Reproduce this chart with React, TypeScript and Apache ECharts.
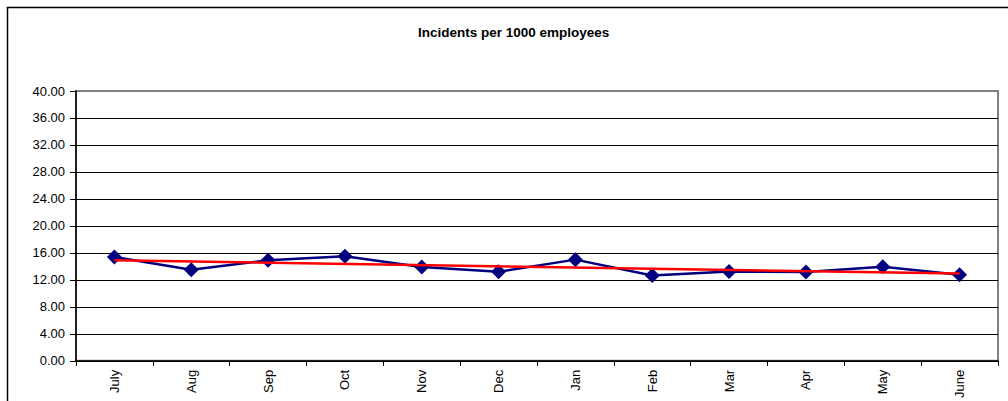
import React, { useEffect, useRef } from "react";
import * as echarts from "echarts";

const months = ["July", "Aug", "Sep", "Oct", "Nov", "Dec", "Jan", "Feb", "Mar", "Apr", "May", "June"];
const incidents = [15.4, 13.5, 14.9, 15.5, 13.9, 13.2, 15.0, 12.65, 13.25, 13.15, 13.95, 12.75];
const trend = [14.9, null, null, null, null, null, null, null, null, null, null, 12.95];
const yTicks = { min: 0, max: 40, interval: 4 };
const titleText = "Incidents per 1000 employees";

const FONT = "'Liberation Sans', Arial, sans-serif";

export default function App() {
  const ref = useRef<HTMLDivElement>(null);
  useEffect(() => {
    document.body.style.margin = "0";
    if (!ref.current) return;
    const chart = echarts.init(ref.current, null, { renderer: "svg" });
    const splitColors: string[] = [];
    for (let v = yTicks.min; v <= yTicks.max; v += yTicks.interval) {
      splitColors.push(v === yTicks.max ? "#808080" : "#000000");
    }
    chart.setOption({
      animation: false,
      backgroundColor: "#ffffff",
      title: {
        text: titleText,
        left: 413,
        top: 20,
        textStyle: { fontFamily: FONT, fontSize: 13.5, fontWeight: "bold", color: "#000" },
      },
      graphic: [
        {
          type: "rect",
          shape: { x: 7.5, y: 7.5, width: 1010, height: 420 },
          style: { fill: "none", stroke: "#000", lineWidth: 1.5 },
          silent: true,
          z: 100,
        },
      ],
      grid: {
        left: 76,
        top: 91,
        right: 10,
        bottom: 40,
        show: true,
        borderColor: "#808080",
        borderWidth: 2,
        backgroundColor: "transparent",
      },
      xAxis: {
        type: "category",
        data: months,
        boundaryGap: true,
        axisLine: { show: true, lineStyle: { color: "#000", width: 1.5 } },
        axisTick: { show: true, length: 5, lineStyle: { color: "#000", width: 1 } },
        axisLabel: {
          rotate: 90,
          margin: 9,
          fontFamily: FONT,
          fontSize: 13,
          color: "#000",
        },
        splitLine: { show: false },
      },
      yAxis: {
        type: "value",
        min: yTicks.min,
        max: yTicks.max,
        interval: yTicks.interval,
        axisLine: { show: true, lineStyle: { color: "#000", width: 1.5 } },
        axisTick: { show: true, length: 6, lineStyle: { color: "#000", width: 1 } },
        axisLabel: {
          margin: 11,
          fontFamily: FONT,
          fontSize: 13,
          color: "#000",
          formatter: (v: number) => v.toFixed(2),
        },
        splitLine: { show: true, lineStyle: { color: splitColors, width: 1 } },
      },
      series: [
        {
          name: "Incidents",
          type: "line",
          data: incidents,
          symbol: "diamond",
          symbolSize: [15, 15],
          lineStyle: { color: "#000080", width: 2.5 },
          itemStyle: { color: "#000080" },
          z: 3,
        },
        {
          name: "Trend",
          type: "line",
          data: trend,
          connectNulls: true,
          symbol: "none",
          lineStyle: { color: "#ff0000", width: 2.5 },
          z: 4,
        },
      ],
    });
    return () => chart.dispose();
  }, []);
  return <div ref={ref} style={{ width: 1008, height: 401 }} />;
}
